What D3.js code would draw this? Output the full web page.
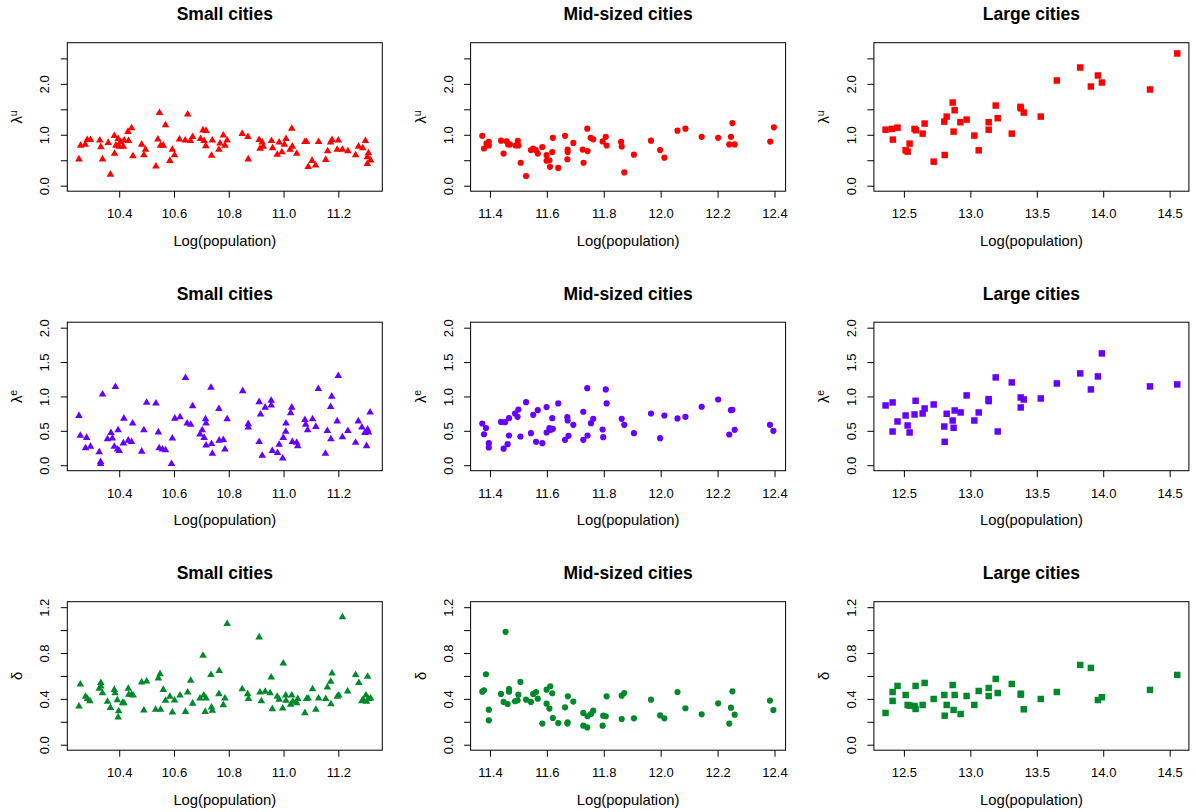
<!DOCTYPE html>
<html>
<head>
<meta charset="utf-8">
<script src="https://cdn.jsdelivr.net/npm/d3@7"></script>
<style>
body { margin: 0; background: #fff; }
text { font-family: "Liberation Sans", Arial, Helvetica, sans-serif; fill: #000; }
</style>
</head>
<body>
<div id="chart"></div>
<script>
'use strict';

// titles and axis labels
var titles = ["Small cities", "Mid-sized cities", "Large cities"];
var xLabel = "Log(population)";
var ySymbols = ["λ", "λ", "δ"];
var ySuper = ["u", "e", ""];

// tick values
var xTicks = [[10.4, 10.6, 10.8, 11.0, 11.2], [11.4, 11.6, 11.8, 12.0, 12.2, 12.4], [12.5, 13.0, 13.5, 14.0, 14.5]];
var yTicks = [[0, 0.5, 1, 1.5, 2, 2.5], [0, 0.5, 1, 1.5, 2], [0, 0.2, 0.4, 0.6, 0.8, 1.0, 1.2]];
var yTickLabels = [[0, 1, 2], [0, 0.5, 1, 1.5, 2], [0, 0.4, 0.8, 1.2]];
var yLimits = [[0, 2.7], [0, 2], [0, 1.2]];

// [log(population), value]
var smallLu = [[10.253,0.52],[10.259,0.79],[10.276,0.81],[10.283,0.90],[10.295,0.90],[10.329,0.89],[10.333,0.76],[10.339,0.52],[10.360,0.84],[10.368,0.22],[10.382,0.98],[10.383,0.63],[10.388,0.79],[10.396,0.92],[10.400,0.77],[10.405,0.86],[10.415,0.77],[10.418,0.89],[10.432,1.06],[10.434,0.88],[10.445,1.13],[10.450,0.58],[10.482,0.81],[10.490,0.60],[10.496,0.71],[10.534,0.38],[10.541,0.91],[10.547,1.43],[10.551,0.79],[10.561,0.79],[10.569,1.19],[10.585,0.49],[10.594,0.71],[10.602,0.60],[10.620,0.91],[10.641,0.89],[10.650,1.40],[10.660,0.88],[10.668,0.96],[10.697,0.92],[10.706,1.09],[10.710,0.88],[10.716,0.78],[10.717,1.08],[10.737,0.59],[10.740,0.89],[10.764,0.71],[10.768,0.83],[10.780,0.99],[10.786,0.79],[10.794,0.89],[10.849,1.02],[10.870,0.96],[10.871,0.52],[10.911,0.90],[10.914,0.73],[10.922,0.85],[10.926,0.77],[10.956,0.88],[10.960,0.74],[10.977,0.61],[10.984,0.85],[10.994,0.66],[11.003,0.81],[11.009,0.92],[11.024,0.71],[11.030,1.12],[11.032,0.77],[11.048,0.63],[11.078,0.86],[11.084,0.86],[11.090,0.37],[11.104,0.49],[11.117,0.40],[11.128,0.86],[11.154,0.51],[11.161,0.68],[11.172,0.85],[11.177,0.90],[11.196,0.71],[11.200,0.89],[11.215,0.71],[11.235,0.68],[11.263,0.60],[11.274,0.77],[11.289,0.74],[11.299,0.88],[11.306,0.56],[11.306,0.43],[11.310,0.64],[11.318,0.50]];
var smallLe = [[10.253,0.72],[10.258,0.43],[10.277,0.25],[10.281,0.40],[10.295,0.27],[10.327,0.19],[10.332,0.05],[10.332,0.02],[10.339,1.03],[10.357,0.38],[10.370,0.47],[10.375,0.39],[10.382,0.27],[10.386,1.14],[10.394,0.23],[10.396,0.51],[10.400,0.21],[10.415,0.32],[10.417,0.68],[10.433,0.36],[10.445,0.34],[10.449,0.61],[10.482,0.20],[10.490,0.51],[10.500,0.91],[10.534,0.90],[10.543,0.48],[10.546,0.25],[10.558,0.23],[10.569,0.22],[10.591,0.02],[10.594,0.39],[10.603,0.68],[10.622,0.70],[10.642,1.27],[10.648,0.61],[10.661,0.59],[10.668,0.86],[10.695,0.45],[10.703,0.51],[10.710,0.40],[10.715,0.67],[10.717,0.61],[10.717,0.29],[10.735,1.13],[10.737,0.31],[10.740,0.17],[10.764,0.82],[10.765,0.36],[10.780,0.37],[10.786,0.23],[10.794,0.67],[10.851,1.08],[10.871,0.60],[10.871,0.55],[10.911,0.92],[10.911,0.34],[10.916,0.74],[10.922,0.14],[10.933,0.84],[10.955,0.94],[10.955,0.87],[10.959,0.21],[10.978,0.18],[10.984,0.30],[10.997,0.10],[10.999,0.40],[11.008,0.49],[11.009,0.61],[11.026,0.76],[11.030,0.84],[11.032,0.34],[11.048,0.33],[11.052,0.28],[11.078,0.66],[11.081,0.59],[11.088,0.51],[11.106,0.67],[11.118,0.56],[11.127,1.11],[11.153,0.17],[11.160,0.50],[11.172,0.85],[11.173,0.38],[11.176,1.00],[11.196,0.64],[11.200,1.30],[11.215,0.41],[11.235,0.50],[11.263,0.33],[11.273,0.64],[11.286,0.55],[11.297,0.47],[11.303,0.28],[11.307,0.52],[11.310,0.48],[11.316,0.77]];
var smallDelta = [[10.253,0.335],[10.258,0.527],[10.277,0.42],[10.284,0.40],[10.293,0.38],[10.327,0.49],[10.333,0.54],[10.333,0.51],[10.339,0.45],[10.357,0.376],[10.368,0.323],[10.382,0.48],[10.385,0.45],[10.393,0.39],[10.398,0.294],[10.396,0.24],[10.412,0.364],[10.417,0.364],[10.433,0.49],[10.435,0.437],[10.445,0.437],[10.451,0.43],[10.482,0.545],[10.490,0.30],[10.500,0.553],[10.533,0.306],[10.543,0.58],[10.549,0.617],[10.551,0.306],[10.561,0.48],[10.569,0.385],[10.585,0.42],[10.594,0.283],[10.602,0.387],[10.622,0.43],[10.642,0.288],[10.650,0.457],[10.661,0.56],[10.668,0.36],[10.695,0.405],[10.706,0.778],[10.709,0.43],[10.714,0.288],[10.717,0.405],[10.735,0.61],[10.737,0.326],[10.740,0.297],[10.764,0.443],[10.765,0.644],[10.780,0.347],[10.786,0.405],[10.794,1.055],[10.849,0.486],[10.869,0.443],[10.872,0.40],[10.911,0.938],[10.914,0.457],[10.919,0.38],[10.933,0.463],[10.951,0.45],[10.955,0.588],[10.959,0.312],[10.977,0.42],[10.984,0.393],[10.997,0.318],[10.999,0.71],[11.008,0.43],[11.009,0.385],[11.026,0.35],[11.030,0.43],[11.034,0.376],[11.048,0.364],[11.052,0.40],[11.078,0.277],[11.084,0.40],[11.090,0.405],[11.106,0.486],[11.118,0.306],[11.128,0.405],[11.154,0.40],[11.160,0.50],[11.172,0.55],[11.173,0.355],[11.177,0.623],[11.196,0.42],[11.202,0.43],[11.215,1.113],[11.234,0.466],[11.263,0.61],[11.275,0.54],[11.286,0.38],[11.291,0.393],[11.301,0.43],[11.303,0.376],[11.307,0.594],[11.311,0.40],[11.318,0.405]];

var midLu = [[11.373,0.98],[11.379,0.73],[11.388,0.83],[11.396,0.86],[11.396,0.79],[11.439,0.885],[11.448,0.63],[11.459,0.87],[11.464,0.81],[11.470,0.81],[11.490,0.79],[11.498,0.88],[11.500,0.79],[11.508,0.45],[11.527,0.19],[11.544,0.70],[11.552,0.73],[11.561,0.70],[11.568,0.63],[11.584,0.76],[11.599,0.60],[11.599,0.49],[11.609,0.50],[11.611,0.37],[11.619,0.66],[11.621,0.94],[11.640,0.35],[11.664,0.98],[11.672,0.52],[11.673,0.71],[11.673,0.66],[11.693,0.84],[11.726,0.71],[11.729,0.45],[11.742,1.12],[11.743,0.68],[11.754,0.94],[11.763,0.91],[11.796,0.87],[11.807,0.96],[11.810,0.79],[11.861,0.86],[11.863,0.77],[11.872,0.26],[11.906,0.61],[11.966,0.885],[11.998,0.70],[12.013,0.55],[12.059,1.08],[12.087,1.12],[12.144,0.96],[12.202,0.94],[12.241,0.81],[12.247,0.96],[12.252,1.23],[12.260,0.81],[12.385,0.866],[12.398,1.147]];
var midLe = [[11.373,0.607],[11.379,0.45],[11.386,0.54],[11.396,0.32],[11.396,0.257],[11.439,0.63],[11.448,0.24],[11.453,0.626],[11.462,0.306],[11.467,0.684],[11.467,0.432],[11.488,0.752],[11.497,0.704],[11.500,0.81],[11.507,0.417],[11.527,0.917],[11.544,0.466],[11.552,0.733],[11.562,0.34],[11.568,0.80],[11.584,0.32],[11.599,0.845],[11.599,0.476],[11.609,0.539],[11.614,0.515],[11.619,0.684],[11.621,0.529],[11.640,0.898],[11.664,0.369],[11.672,0.699],[11.673,0.65],[11.676,0.427],[11.693,0.587],[11.728,0.777],[11.728,0.369],[11.742,1.121],[11.743,0.432],[11.755,0.612],[11.763,0.675],[11.796,0.519],[11.798,0.408],[11.807,1.102],[11.810,0.898],[11.863,0.675],[11.872,0.587],[11.906,0.466],[11.966,0.752],[11.998,0.393],[12.013,0.723],[12.059,0.68],[12.087,0.704],[12.144,0.85],[12.202,0.956],[12.241,0.447],[12.247,0.80],[12.252,0.806],[12.260,0.515],[12.384,0.587],[12.396,0.50]];
var midDelta = [[11.373,0.463],[11.379,0.475],[11.386,0.615],[11.396,0.306],[11.396,0.213],[11.439,0.443],[11.448,0.373],[11.455,0.985],[11.462,0.355],[11.467,0.486],[11.467,0.463],[11.488,0.379],[11.497,0.387],[11.500,0.437],[11.507,0.548],[11.527,0.393],[11.544,0.373],[11.552,0.443],[11.562,0.46],[11.568,0.402],[11.584,0.184],[11.599,0.358],[11.599,0.48],[11.609,0.315],[11.612,0.51],[11.619,0.449],[11.621,0.233],[11.640,0.189],[11.664,0.326],[11.672,0.184],[11.673,0.195],[11.674,0.422],[11.693,0.376],[11.728,0.277],[11.728,0.166],[11.742,0.151],[11.743,0.248],[11.755,0.268],[11.763,0.297],[11.796,0.166],[11.798,0.253],[11.807,0.248],[11.810,0.422],[11.863,0.428],[11.863,0.224],[11.872,0.451],[11.906,0.23],[11.966,0.393],[11.998,0.256],[12.013,0.23],[12.059,0.46],[12.087,0.318],[12.144,0.265],[12.202,0.361],[12.241,0.184],[12.247,0.323],[12.252,0.466],[12.260,0.262],[12.384,0.385],[12.396,0.303]];

var largeLu = [[12.362,1.10],[12.410,1.115],[12.417,0.905],[12.452,1.14],[12.513,0.695],[12.528,0.669],[12.543,0.826],[12.580,1.115],[12.590,1.089],[12.641,1.023],[12.656,1.22],[12.724,0.472],[12.804,1.259],[12.807,0.603],[12.822,1.357],[12.867,1.633],[12.874,1.062],[12.882,1.482],[12.925,1.246],[12.972,1.298],[13.030,0.984],[13.063,0.695],[13.138,1.246],[13.138,1.10],[13.191,1.574],[13.206,1.325],[13.312,1.023],[13.377,1.548],[13.380,1.52],[13.402,1.436],[13.530,1.357],[13.651,2.066],[13.827,2.321],[13.907,1.948],[13.960,2.164],[13.990,2.026],[14.352,1.889],[14.557,2.597]];
var largeLe = [[12.362,0.869],[12.415,0.913],[12.415,0.49],[12.452,0.636],[12.513,0.723],[12.528,0.578],[12.543,0.476],[12.580,0.738],[12.588,0.937],[12.641,0.752],[12.656,0.825],[12.724,0.883],[12.804,0.563],[12.807,0.34],[12.822,0.748],[12.867,0.65],[12.874,0.544],[12.882,0.796],[12.927,0.767],[12.972,1.015],[13.030,0.65],[13.063,0.767],[13.138,0.961],[13.138,0.932],[13.191,1.277],[13.206,0.49],[13.312,1.204],[13.379,0.985],[13.379,0.84],[13.402,0.956],[13.530,0.971],[13.651,1.189],[13.827,1.335],[13.907,1.102],[13.960,1.291],[13.990,1.626],[14.352,1.146],[14.557,1.175]];
var largeDelta = [[12.362,0.277],[12.415,0.46],[12.415,0.382],[12.452,0.513],[12.513,0.434],[12.528,0.347],[12.543,0.341],[12.580,0.338],[12.588,0.312],[12.588,0.513],[12.641,0.347],[12.656,0.539],[12.724,0.399],[12.804,0.434],[12.807,0.253],[12.822,0.347],[12.867,0.521],[12.874,0.303],[12.882,0.434],[12.927,0.268],[12.972,0.425],[13.030,0.347],[13.063,0.469],[13.138,0.495],[13.138,0.425],[13.191,0.574],[13.206,0.451],[13.312,0.53],[13.379,0.437],[13.381,0.445],[13.402,0.309],[13.530,0.399],[13.651,0.46],[13.827,0.696],[13.907,0.67],[13.960,0.39],[13.990,0.414],[14.352,0.478],[14.557,0.609]];

var rowColors = ["#ff0000", "#6600ff", "#00892a"];
var colSymbols = [d3.symbolTriangle, d3.symbolCircle, d3.symbolSquare];
var colSymbolSizes = [25, 30, 42];

var panelData = [
	[smallLu, midLu, largeLu],
	[smallLe, midLe, largeLe],
	[smallDelta, midDelta, largeDelta]
];

// layout
var width = 1196, height = 812;
var boxW = 315, boxH = 148.5;
var left0 = 67.3, top0 = 42.7;
var colStep = 403.3, rowStep = 279.5;
var tickLen = 6.5;
var fmt = d3.format(".1f");

// R style: extend the range by 4% on each side
function pad(ext) {
	var d = (ext[1] - ext[0]) * 0.04;
	return [ext[0] - d, ext[1] + d];
}

var svg = d3.select("#chart")
	.append("svg")
	.attr("width", width)
	.attr("height", height);

svg.append("rect")
	.attr("width", width)
	.attr("height", height)
	.attr("fill", "#fff");

for (var r = 0; r < 3; r++) {
	for (var c = 0; c < 3; c++) {
		drawPanel(r, c);
	}
}

function drawPanel(r, c) {
	var data = panelData[r][c];
	var x0 = left0 + c * colStep;
	var y0 = top0 + r * rowStep;

	// same populations in each column
	var colPoints = panelData[0][c].concat(panelData[1][c], panelData[2][c]);
	var x = d3.scaleLinear()
		.domain(pad(d3.extent(colPoints, function(d) { return d[0]; })))
		.range([0, boxW]);
	var y = d3.scaleLinear()
		.domain(pad(yLimits[r]))
		.range([boxH, 0]);

	var g = svg.append("g")
		.attr("transform", "translate(" + x0 + "," + y0 + ")");

	// x axis
	var gx = g.append("g")
		.attr("transform", "translate(0," + boxH + ")")
		.call(d3.axisBottom(x)
			.tickValues(xTicks[c])
			.tickSize(tickLen)
			.tickPadding(11.5)
			.tickFormat(fmt));
	gx.select(".domain").remove();
	gx.selectAll("line").attr("stroke", "#000");
	gx.selectAll("text").style("font-size", "13px");
	gx.attr("font-family", null);

	// y axis, labels turned like R
	var gy = g.append("g")
		.call(d3.axisLeft(y)
			.tickValues(yTicks[r])
			.tickSize(tickLen)
			.tickFormat(function(d) {
				return yTickLabels[r].indexOf(d) >= 0 ? fmt(d) : "";
			}));
	gy.select(".domain").remove();
	gy.selectAll("line").attr("stroke", "#000");
	gy.selectAll("text")
		.attr("x", 0)
		.attr("dy", "0.35em")
		.attr("text-anchor", "middle")
		.attr("transform", "translate(-22.5,0) rotate(-90)")
		.style("font-size", "13px");
	gy.attr("font-family", null);

	// points
	g.selectAll("path.pt")
		.data(data)
		.enter()
		.append("path")
		.attr("class", "pt")
		.attr("d", d3.symbol().type(colSymbols[c]).size(colSymbolSizes[c]))
		.attr("transform", function(d) {
			return "translate(" + x(d[0]) + "," + y(d[1]) + ")";
		})
		.attr("fill", rowColors[r]);

	// box
	g.append("rect")
		.attr("width", boxW)
		.attr("height", boxH)
		.attr("fill", "none")
		.attr("stroke", "#000")
		.attr("stroke-width", 1);

	// title
	g.append("text")
		.attr("x", boxW / 2)
		.attr("y", -22.5)
		.attr("text-anchor", "middle")
		.style("font-size", "17.5px")
		.style("font-weight", "bold")
		.text(titles[c]);

	// x label
	g.append("text")
		.attr("x", boxW / 2)
		.attr("y", boxH + 49.3)
		.attr("dy", "0.35em")
		.attr("text-anchor", "middle")
		.style("font-size", "14.8px")
		.text(xLabel);

	// y label
	var yl = g.append("text")
		.attr("text-anchor", "middle")
		.attr("transform", "translate(-50," + (boxH / 2) + ") rotate(-90)")
		.attr("dy", "0.35em")
		.style("font-size", "14.8px");
	yl.append("tspan").text(ySymbols[r]);
	if (ySuper[r] != "") {
		yl.append("tspan")
			.attr("dy", "-0.5em")
			.style("font-size", "10.5px")
			.text(ySuper[r]);
	}
}
</script>
</body>
</html>
